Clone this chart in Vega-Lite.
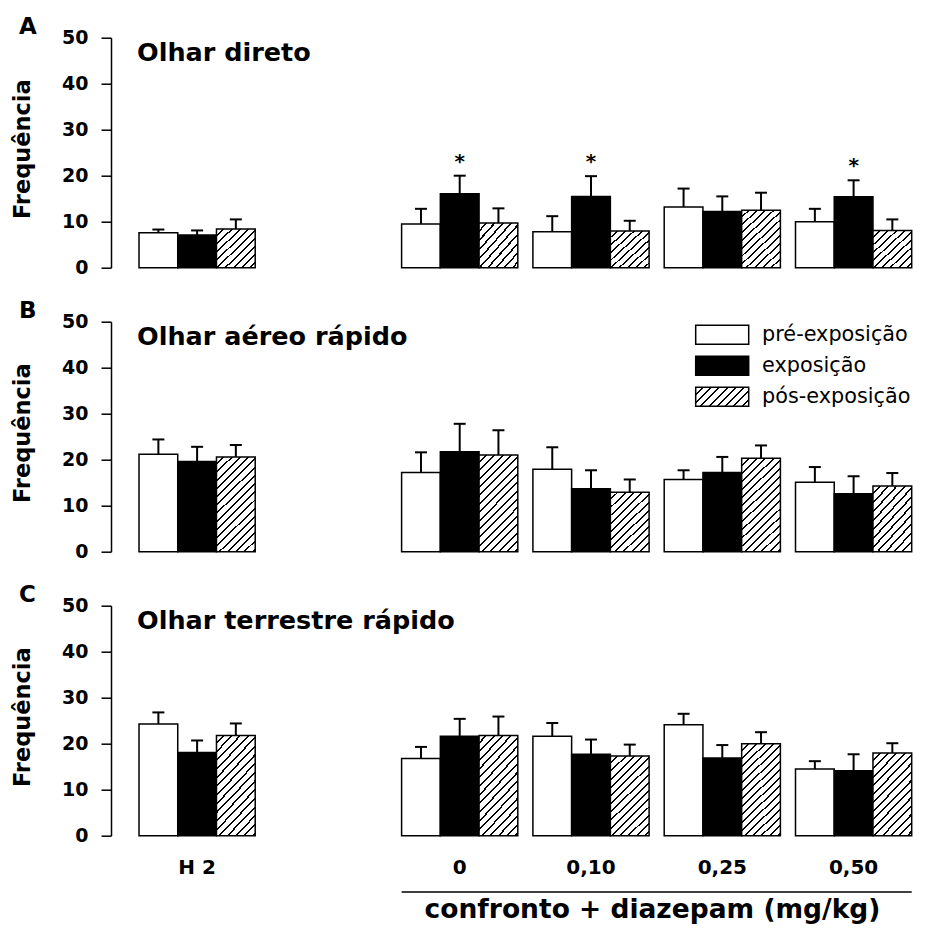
{
  "$schema": "https://vega.github.io/schema/vega-lite/v6.json",
  "padding": {"left": 10, "top": 15.7, "right": 0, "bottom": 0},
  "spacing": 22,
  "datasets": {
    "A": [
      {"group": "H 2", "cond": "pré-exposição", "mean": 7.6, "upper": 8.3},
      {"group": "H 2", "cond": "exposição", "mean": 7.1, "upper": 8.1},
      {"group": "H 2", "cond": "pós-exposição", "mean": 8.4, "upper": 10.5},
      {"group": "0", "cond": "pré-exposição", "mean": 9.5, "upper": 12.8},
      {"group": "0", "cond": "exposição", "mean": 16.1, "upper": 20.0, "sig": "*"},
      {"group": "0", "cond": "pós-exposição", "mean": 9.7, "upper": 12.9},
      {"group": "0,10", "cond": "pré-exposição", "mean": 7.8, "upper": 11.2},
      {"group": "0,10", "cond": "exposição", "mean": 15.5, "upper": 19.9, "sig": "*"},
      {"group": "0,10", "cond": "pós-exposição", "mean": 8.0, "upper": 10.2},
      {"group": "0,25", "cond": "pré-exposição", "mean": 13.2, "upper": 17.2},
      {"group": "0,25", "cond": "exposição", "mean": 12.2, "upper": 15.5},
      {"group": "0,25", "cond": "pós-exposição", "mean": 12.5, "upper": 16.3},
      {"group": "0,50", "cond": "pré-exposição", "mean": 10.0, "upper": 12.8},
      {"group": "0,50", "cond": "exposição", "mean": 15.4, "upper": 19.0, "sig": "*"},
      {"group": "0,50", "cond": "pós-exposição", "mean": 8.1, "upper": 10.5}
    ],
    "B": [
      {"group": "H 2", "cond": "pré-exposição", "mean": 21.2, "upper": 24.4},
      {"group": "H 2", "cond": "exposição", "mean": 19.6, "upper": 22.8},
      {"group": "H 2", "cond": "pós-exposição", "mean": 20.6, "upper": 23.2},
      {"group": "0", "cond": "pré-exposição", "mean": 17.2, "upper": 21.6},
      {"group": "0", "cond": "exposição", "mean": 21.7, "upper": 27.8},
      {"group": "0", "cond": "pós-exposição", "mean": 21.0, "upper": 26.4},
      {"group": "0,10", "cond": "pré-exposição", "mean": 17.9, "upper": 22.7},
      {"group": "0,10", "cond": "exposição", "mean": 13.7, "upper": 17.7},
      {"group": "0,10", "cond": "pós-exposição", "mean": 12.9, "upper": 15.7},
      {"group": "0,25", "cond": "pré-exposição", "mean": 15.7, "upper": 17.7},
      {"group": "0,25", "cond": "exposição", "mean": 17.2, "upper": 20.6},
      {"group": "0,25", "cond": "pós-exposição", "mean": 20.3, "upper": 23.1},
      {"group": "0,50", "cond": "pré-exposição", "mean": 15.1, "upper": 18.4},
      {"group": "0,50", "cond": "exposição", "mean": 12.6, "upper": 16.4},
      {"group": "0,50", "cond": "pós-exposição", "mean": 14.3, "upper": 17.1}
    ],
    "C": [
      {"group": "H 2", "cond": "pré-exposição", "mean": 24.3, "upper": 26.8},
      {"group": "H 2", "cond": "exposição", "mean": 18.1, "upper": 20.7},
      {"group": "H 2", "cond": "pós-exposição", "mean": 21.8, "upper": 24.4},
      {"group": "0", "cond": "pré-exposição", "mean": 16.8, "upper": 19.3},
      {"group": "0", "cond": "exposição", "mean": 21.6, "upper": 25.4},
      {"group": "0", "cond": "pós-exposição", "mean": 21.8, "upper": 25.9},
      {"group": "0,10", "cond": "pré-exposição", "mean": 21.6, "upper": 24.5},
      {"group": "0,10", "cond": "exposição", "mean": 17.7, "upper": 20.9},
      {"group": "0,10", "cond": "pós-exposição", "mean": 17.3, "upper": 19.8},
      {"group": "0,25", "cond": "pré-exposição", "mean": 24.1, "upper": 26.5},
      {"group": "0,25", "cond": "exposição", "mean": 16.9, "upper": 19.7},
      {"group": "0,25", "cond": "pós-exposição", "mean": 20.0, "upper": 22.5},
      {"group": "0,50", "cond": "pré-exposição", "mean": 14.5, "upper": 16.2},
      {"group": "0,50", "cond": "exposição", "mean": 14.1, "upper": 17.7},
      {"group": "0,50", "cond": "pós-exposição", "mean": 18.0, "upper": 20.1}
    ]
  },
  "vconcat": [
    {
      "width": 805, "height": 230,
      "data": {"name": "A"},
      "title": {"text": "A", "anchor": "start", "frame": "group", "dx": -92, "offset": -10, "fontSize": 23},
      "layer": [
        {
          "mark": {"type": "bar", "stroke": "black", "strokeWidth": 1.5},
          "encoding": {
            "x": {"field": "group", "type": "nominal", "scale": {"domain": ["H 2", " ", "0", "0,10", "0,25", "0,50"], "paddingInner": 0.115, "paddingOuter": 0.123, "align": 0.867}, "axis": null},
            "xOffset": {"field": "cond", "type": "nominal", "scale": {"domain": ["pré-exposição", "exposição", "pós-exposição"], "paddingInner": 0, "paddingOuter": 0}},
            "y": {"field": "mean", "type": "quantitative", "scale": {"domain": [0, 50], "nice": false}, "axis": {"title": "Frequência", "values": [0, 10, 20, 30, 40, 50]}},
            "fill": {
              "field": "cond", "type": "nominal", "legend": null,
              "scale": {"domain": ["pré-exposição", "exposição", "pós-exposição"], "range": ["white", "black", "#888888"]},
              "condition": [
                {"test": "datum.cond === 'pós-exposição' && datum.mean < 11", "value": {"gradient": "linear", "x1": 0, "y1": 0, "x2": 0.983, "y2": 1.016, "stops": [
                  {"offset": 0, "color": "white"},
                  {"offset": 0.080, "color": "white"}, {"offset": 0.080, "color": "black"}, {"offset": 0.105, "color": "black"}, {"offset": 0.105, "color": "white"},
                  {"offset": 0.185, "color": "white"}, {"offset": 0.185, "color": "black"}, {"offset": 0.211, "color": "black"}, {"offset": 0.211, "color": "white"},
                  {"offset": 0.291, "color": "white"}, {"offset": 0.291, "color": "black"}, {"offset": 0.316, "color": "black"}, {"offset": 0.316, "color": "white"},
                  {"offset": 0.396, "color": "white"}, {"offset": 0.396, "color": "black"}, {"offset": 0.421, "color": "black"}, {"offset": 0.421, "color": "white"},
                  {"offset": 0.501, "color": "white"}, {"offset": 0.501, "color": "black"}, {"offset": 0.526, "color": "black"}, {"offset": 0.526, "color": "white"},
                  {"offset": 0.606, "color": "white"}, {"offset": 0.606, "color": "black"}, {"offset": 0.632, "color": "black"}, {"offset": 0.632, "color": "white"},
                  {"offset": 0.712, "color": "white"}, {"offset": 0.712, "color": "black"}, {"offset": 0.737, "color": "black"}, {"offset": 0.737, "color": "white"},
                  {"offset": 0.817, "color": "white"}, {"offset": 0.817, "color": "black"}, {"offset": 0.842, "color": "black"}, {"offset": 0.842, "color": "white"},
                  {"offset": 0.922, "color": "white"}, {"offset": 0.922, "color": "black"}, {"offset": 0.947, "color": "black"}, {"offset": 0.947, "color": "white"},
                  {"offset": 1, "color": "white"}]}},
                {"test": "datum.cond === 'pós-exposição'", "value": {"gradient": "linear", "x1": 0, "y1": 0, "x2": 0.739, "y2": 1.165, "stops": [
                  {"offset": 0, "color": "white"},
                  {"offset": 0.0633, "color": "white"}, {"offset": 0.0633, "color": "black"}, {"offset": 0.0833, "color": "black"}, {"offset": 0.0833, "color": "white"},
                  {"offset": 0.1467, "color": "white"}, {"offset": 0.1467, "color": "black"}, {"offset": 0.1667, "color": "black"}, {"offset": 0.1667, "color": "white"},
                  {"offset": 0.23, "color": "white"}, {"offset": 0.23, "color": "black"}, {"offset": 0.25, "color": "black"}, {"offset": 0.25, "color": "white"},
                  {"offset": 0.3133, "color": "white"}, {"offset": 0.3133, "color": "black"}, {"offset": 0.3333, "color": "black"}, {"offset": 0.3333, "color": "white"},
                  {"offset": 0.3967, "color": "white"}, {"offset": 0.3967, "color": "black"}, {"offset": 0.4167, "color": "black"}, {"offset": 0.4167, "color": "white"},
                  {"offset": 0.48, "color": "white"}, {"offset": 0.48, "color": "black"}, {"offset": 0.5, "color": "black"}, {"offset": 0.5, "color": "white"},
                  {"offset": 0.5633, "color": "white"}, {"offset": 0.5633, "color": "black"}, {"offset": 0.5833, "color": "black"}, {"offset": 0.5833, "color": "white"},
                  {"offset": 0.6467, "color": "white"}, {"offset": 0.6467, "color": "black"}, {"offset": 0.6667, "color": "black"}, {"offset": 0.6667, "color": "white"},
                  {"offset": 0.73, "color": "white"}, {"offset": 0.73, "color": "black"}, {"offset": 0.75, "color": "black"}, {"offset": 0.75, "color": "white"},
                  {"offset": 0.8133, "color": "white"}, {"offset": 0.8133, "color": "black"}, {"offset": 0.8333, "color": "black"}, {"offset": 0.8333, "color": "white"},
                  {"offset": 0.8967, "color": "white"}, {"offset": 0.8967, "color": "black"}, {"offset": 0.9167, "color": "black"}, {"offset": 0.9167, "color": "white"},
                  {"offset": 1, "color": "white"}]}}
              ]
            }
          }
        },
        {
          "mark": {"type": "rule", "stroke": "black", "strokeWidth": 2},
          "encoding": {
            "x": {"field": "group", "type": "nominal"},
            "xOffset": {"field": "cond", "type": "nominal"},
            "y": {"field": "mean", "type": "quantitative"},
            "y2": {"field": "upper"}
          }
        },
        {
          "mark": {"type": "tick", "color": "black", "opacity": 1, "thickness": 2, "size": 12, "orient": "horizontal"},
          "encoding": {
            "x": {"field": "group", "type": "nominal"},
            "xOffset": {"field": "cond", "type": "nominal"},
            "y": {"field": "upper", "type": "quantitative"}
          }
        },
        {
          "transform": [{"filter": "datum.sig"}],
          "mark": {"type": "text", "fontSize": 20, "fontWeight": "bold", "font": "DejaVu Sans", "baseline": "alphabetic", "dy": -8, "color": "black"},
          "encoding": {
            "x": {"field": "group", "type": "nominal"},
            "xOffset": {"field": "cond", "type": "nominal"},
            "y": {"field": "upper", "type": "quantitative"},
            "text": {"field": "sig"}
          }
        },
        {
          "data": {"values": [{"t": "Olhar direto"}]},
          "mark": {"type": "text", "font": "DejaVu Sans", "fontWeight": "bold", "fontSize": 25.5, "align": "left", "baseline": "alphabetic", "dx": -2, "color": "black"},
          "encoding": {
            "x": {"datum": "H 2", "type": "nominal", "bandPosition": 0},
            "y": {"datum": 45, "type": "quantitative"},
            "text": {"field": "t"}
          }
        }
      ]
    },
    {
      "width": 805, "height": 230,
      "data": {"name": "B"},
      "title": {"text": "B", "anchor": "start", "frame": "group", "dx": -92, "offset": -10, "fontSize": 23},
      "layer": [
        {
          "mark": {"type": "bar", "stroke": "black", "strokeWidth": 1.5},
          "encoding": {
            "x": {"field": "group", "type": "nominal", "scale": {"domain": ["H 2", " ", "0", "0,10", "0,25", "0,50"], "paddingInner": 0.115, "paddingOuter": 0.123, "align": 0.867}, "axis": null},
            "xOffset": {"field": "cond", "type": "nominal", "scale": {"domain": ["pré-exposição", "exposição", "pós-exposição"], "paddingInner": 0, "paddingOuter": 0}},
            "y": {"field": "mean", "type": "quantitative", "scale": {"domain": [0, 50], "nice": false}, "axis": {"title": "Frequência", "values": [0, 10, 20, 30, 40, 50]}},
            "fill": {
              "field": "cond", "type": "nominal",
              "legend": {"orient": "none", "legendX": 600.7, "legendY": 2.6, "title": null, "symbolType": "M-2.79,-1H2.79V1H-2.79Z", "symbolSize": 361, "symbolStrokeWidth": 1.5, "symbolStrokeColor": "black", "symbolOpacity": 1, "labelFont": "DejaVu Sans", "labelFontSize": 20.8, "labelColor": "black", "labelOffset": 29.4, "rowPadding": 6, "padding": 0,
                "encode": {"symbols": {"update": {"stroke": {"value": "black"}, "strokeWidth": {"value": 1.5}}}}
              },
              "scale": {"domain": ["pré-exposição", "exposição", "pós-exposição"], "range": ["white", "black", {"expr": "{gradient: 'linear', x1: 0, y1: 0, x2: 1.204, y2: 0.431, stops: [{offset: 0, color: 'white'}, {offset: 0.0873, color: 'white'}, {offset: 0.0873, color: 'black'}, {offset: 0.1149, color: 'black'}, {offset: 0.1149, color: 'white'}, {offset: 0.2023, color: 'white'}, {offset: 0.2023, color: 'black'}, {offset: 0.2299, color: 'black'}, {offset: 0.2299, color: 'white'}, {offset: 0.3172, color: 'white'}, {offset: 0.3172, color: 'black'}, {offset: 0.3448, color: 'black'}, {offset: 0.3448, color: 'white'}, {offset: 0.4322, color: 'white'}, {offset: 0.4322, color: 'black'}, {offset: 0.4598, color: 'black'}, {offset: 0.4598, color: 'white'}, {offset: 0.5471, color: 'white'}, {offset: 0.5471, color: 'black'}, {offset: 0.5747, color: 'black'}, {offset: 0.5747, color: 'white'}, {offset: 0.6621, color: 'white'}, {offset: 0.6621, color: 'black'}, {offset: 0.6897, color: 'black'}, {offset: 0.6897, color: 'white'}, {offset: 0.777, color: 'white'}, {offset: 0.777, color: 'black'}, {offset: 0.8046, color: 'black'}, {offset: 0.8046, color: 'white'}, {offset: 0.8919, color: 'white'}, {offset: 0.8919, color: 'black'}, {offset: 0.9195, color: 'black'}, {offset: 0.9195, color: 'white'}, {offset: 1, color: 'white'}]}"}]},
              "condition": [
                {"test": "datum.cond === 'pós-exposição' && datum.mean < 16", "value": {"gradient": "linear", "x1": 0, "y1": 0, "x2": 0.739, "y2": 1.165, "stops": [
                  {"offset": 0, "color": "white"},
                  {"offset": 0.0633, "color": "white"}, {"offset": 0.0633, "color": "black"}, {"offset": 0.0833, "color": "black"}, {"offset": 0.0833, "color": "white"},
                  {"offset": 0.1467, "color": "white"}, {"offset": 0.1467, "color": "black"}, {"offset": 0.1667, "color": "black"}, {"offset": 0.1667, "color": "white"},
                  {"offset": 0.23, "color": "white"}, {"offset": 0.23, "color": "black"}, {"offset": 0.25, "color": "black"}, {"offset": 0.25, "color": "white"},
                  {"offset": 0.3133, "color": "white"}, {"offset": 0.3133, "color": "black"}, {"offset": 0.3333, "color": "black"}, {"offset": 0.3333, "color": "white"},
                  {"offset": 0.3967, "color": "white"}, {"offset": 0.3967, "color": "black"}, {"offset": 0.4167, "color": "black"}, {"offset": 0.4167, "color": "white"},
                  {"offset": 0.48, "color": "white"}, {"offset": 0.48, "color": "black"}, {"offset": 0.5, "color": "black"}, {"offset": 0.5, "color": "white"},
                  {"offset": 0.5633, "color": "white"}, {"offset": 0.5633, "color": "black"}, {"offset": 0.5833, "color": "black"}, {"offset": 0.5833, "color": "white"},
                  {"offset": 0.6467, "color": "white"}, {"offset": 0.6467, "color": "black"}, {"offset": 0.6667, "color": "black"}, {"offset": 0.6667, "color": "white"},
                  {"offset": 0.73, "color": "white"}, {"offset": 0.73, "color": "black"}, {"offset": 0.75, "color": "black"}, {"offset": 0.75, "color": "white"},
                  {"offset": 0.8133, "color": "white"}, {"offset": 0.8133, "color": "black"}, {"offset": 0.8333, "color": "black"}, {"offset": 0.8333, "color": "white"},
                  {"offset": 0.8967, "color": "white"}, {"offset": 0.8967, "color": "black"}, {"offset": 0.9167, "color": "black"}, {"offset": 0.9167, "color": "white"},
                  {"offset": 1, "color": "white"}]}},
                {"test": "datum.cond === 'pós-exposição'", "value": {"gradient": "linear", "x1": 0, "y1": 0, "x2": 0.487, "y2": 1.207, "stops": [
                  {"offset": 0, "color": "white"},
                  {"offset": 0.0469, "color": "white"}, {"offset": 0.0469, "color": "black"}, {"offset": 0.0617, "color": "black"}, {"offset": 0.0617, "color": "white"},
                  {"offset": 0.1087, "color": "white"}, {"offset": 0.1087, "color": "black"}, {"offset": 0.1235, "color": "black"}, {"offset": 0.1235, "color": "white"},
                  {"offset": 0.1704, "color": "white"}, {"offset": 0.1704, "color": "black"}, {"offset": 0.1852, "color": "black"}, {"offset": 0.1852, "color": "white"},
                  {"offset": 0.2321, "color": "white"}, {"offset": 0.2321, "color": "black"}, {"offset": 0.2469, "color": "black"}, {"offset": 0.2469, "color": "white"},
                  {"offset": 0.2938, "color": "white"}, {"offset": 0.2938, "color": "black"}, {"offset": 0.3086, "color": "black"}, {"offset": 0.3086, "color": "white"},
                  {"offset": 0.3556, "color": "white"}, {"offset": 0.3556, "color": "black"}, {"offset": 0.3704, "color": "black"}, {"offset": 0.3704, "color": "white"},
                  {"offset": 0.4173, "color": "white"}, {"offset": 0.4173, "color": "black"}, {"offset": 0.4321, "color": "black"}, {"offset": 0.4321, "color": "white"},
                  {"offset": 0.479, "color": "white"}, {"offset": 0.479, "color": "black"}, {"offset": 0.4938, "color": "black"}, {"offset": 0.4938, "color": "white"},
                  {"offset": 0.5408, "color": "white"}, {"offset": 0.5408, "color": "black"}, {"offset": 0.5556, "color": "black"}, {"offset": 0.5556, "color": "white"},
                  {"offset": 0.6025, "color": "white"}, {"offset": 0.6025, "color": "black"}, {"offset": 0.6173, "color": "black"}, {"offset": 0.6173, "color": "white"},
                  {"offset": 0.6642, "color": "white"}, {"offset": 0.6642, "color": "black"}, {"offset": 0.679, "color": "black"}, {"offset": 0.679, "color": "white"},
                  {"offset": 0.7259, "color": "white"}, {"offset": 0.7259, "color": "black"}, {"offset": 0.7407, "color": "black"}, {"offset": 0.7407, "color": "white"},
                  {"offset": 0.7877, "color": "white"}, {"offset": 0.7877, "color": "black"}, {"offset": 0.8025, "color": "black"}, {"offset": 0.8025, "color": "white"},
                  {"offset": 0.8494, "color": "white"}, {"offset": 0.8494, "color": "black"}, {"offset": 0.8642, "color": "black"}, {"offset": 0.8642, "color": "white"},
                  {"offset": 0.9111, "color": "white"}, {"offset": 0.9111, "color": "black"}, {"offset": 0.9259, "color": "black"}, {"offset": 0.9259, "color": "white"},
                  {"offset": 0.9729, "color": "white"}, {"offset": 0.9729, "color": "black"}, {"offset": 0.9877, "color": "black"}, {"offset": 0.9877, "color": "white"},
                  {"offset": 1, "color": "white"}]}}
              ]
            }
          }
        },
        {
          "mark": {"type": "rule", "stroke": "black", "strokeWidth": 2},
          "encoding": {
            "x": {"field": "group", "type": "nominal"},
            "xOffset": {"field": "cond", "type": "nominal"},
            "y": {"field": "mean", "type": "quantitative"},
            "y2": {"field": "upper"}
          }
        },
        {
          "mark": {"type": "tick", "color": "black", "opacity": 1, "thickness": 2, "size": 12, "orient": "horizontal"},
          "encoding": {
            "x": {"field": "group", "type": "nominal"},
            "xOffset": {"field": "cond", "type": "nominal"},
            "y": {"field": "upper", "type": "quantitative"}
          }
        },
        {
          "data": {"values": [{"t": "Olhar aéreo rápido"}]},
          "mark": {"type": "text", "font": "DejaVu Sans", "fontWeight": "bold", "fontSize": 25.5, "align": "left", "baseline": "alphabetic", "dx": -2, "color": "black"},
          "encoding": {
            "x": {"datum": "H 2", "type": "nominal", "bandPosition": 0},
            "y": {"datum": 45, "type": "quantitative"},
            "text": {"field": "t"}
          }
        }
      ]
    },
    {
      "width": 805, "height": 230,
      "data": {"name": "C"},
      "title": {"text": "C", "anchor": "start", "frame": "group", "dx": -92, "offset": -10, "fontSize": 23},
      "layer": [
        {
          "mark": {"type": "bar", "stroke": "black", "strokeWidth": 1.5},
          "encoding": {
            "x": {"field": "group", "type": "nominal", "scale": {"domain": ["H 2", " ", "0", "0,10", "0,25", "0,50"], "paddingInner": 0.115, "paddingOuter": 0.123, "align": 0.867},
              "axis": {"title": "confronto + diazepam (mg/kg)", "domain": false, "ticks": false, "tickSize": 0, "labelPadding": 22, "labelFontSize": 20, "labelAngle": 0, "titleFontSize": 26.5, "titleX": 541, "titleY": 82, "titleAlign": "center", "titleBaseline": "alphabetic"}},
            "xOffset": {"field": "cond", "type": "nominal", "scale": {"domain": ["pré-exposição", "exposição", "pós-exposição"], "paddingInner": 0, "paddingOuter": 0}},
            "y": {"field": "mean", "type": "quantitative", "scale": {"domain": [0, 50], "nice": false}, "axis": {"title": "Frequência", "values": [0, 10, 20, 30, 40, 50]}},
            "fill": {
              "field": "cond", "type": "nominal", "legend": null,
              "scale": {"domain": ["pré-exposição", "exposição", "pós-exposição"], "range": ["white", "black", "#888888"]},
              "condition": [
                {"test": "datum.cond === 'pós-exposição' && datum.mean < 19", "value": {"gradient": "linear", "x1": 0, "y1": 0, "x2": 0.576, "y2": 1.203, "stops": [
                  {"offset": 0, "color": "white"},
                  {"offset": 0.0527, "color": "white"}, {"offset": 0.0527, "color": "black"}, {"offset": 0.0694, "color": "black"}, {"offset": 0.0694, "color": "white"},
                  {"offset": 0.1222, "color": "white"}, {"offset": 0.1222, "color": "black"}, {"offset": 0.1389, "color": "black"}, {"offset": 0.1389, "color": "white"},
                  {"offset": 0.1916, "color": "white"}, {"offset": 0.1916, "color": "black"}, {"offset": 0.2083, "color": "black"}, {"offset": 0.2083, "color": "white"},
                  {"offset": 0.2611, "color": "white"}, {"offset": 0.2611, "color": "black"}, {"offset": 0.2778, "color": "black"}, {"offset": 0.2778, "color": "white"},
                  {"offset": 0.3305, "color": "white"}, {"offset": 0.3305, "color": "black"}, {"offset": 0.3472, "color": "black"}, {"offset": 0.3472, "color": "white"},
                  {"offset": 0.4, "color": "white"}, {"offset": 0.4, "color": "black"}, {"offset": 0.4167, "color": "black"}, {"offset": 0.4167, "color": "white"},
                  {"offset": 0.4694, "color": "white"}, {"offset": 0.4694, "color": "black"}, {"offset": 0.4861, "color": "black"}, {"offset": 0.4861, "color": "white"},
                  {"offset": 0.5389, "color": "white"}, {"offset": 0.5389, "color": "black"}, {"offset": 0.5556, "color": "black"}, {"offset": 0.5556, "color": "white"},
                  {"offset": 0.6083, "color": "white"}, {"offset": 0.6083, "color": "black"}, {"offset": 0.625, "color": "black"}, {"offset": 0.625, "color": "white"},
                  {"offset": 0.6777, "color": "white"}, {"offset": 0.6777, "color": "black"}, {"offset": 0.6944, "color": "black"}, {"offset": 0.6944, "color": "white"},
                  {"offset": 0.7472, "color": "white"}, {"offset": 0.7472, "color": "black"}, {"offset": 0.7639, "color": "black"}, {"offset": 0.7639, "color": "white"},
                  {"offset": 0.8166, "color": "white"}, {"offset": 0.8166, "color": "black"}, {"offset": 0.8333, "color": "black"}, {"offset": 0.8333, "color": "white"},
                  {"offset": 0.8861, "color": "white"}, {"offset": 0.8861, "color": "black"}, {"offset": 0.9028, "color": "black"}, {"offset": 0.9028, "color": "white"},
                  {"offset": 0.9555, "color": "white"}, {"offset": 0.9555, "color": "black"}, {"offset": 0.9722, "color": "black"}, {"offset": 0.9722, "color": "white"},
                  {"offset": 1, "color": "white"}]}},
                {"test": "datum.cond === 'pós-exposição'", "value": {"gradient": "linear", "x1": 0, "y1": 0, "x2": 0.487, "y2": 1.207, "stops": [
                  {"offset": 0, "color": "white"},
                  {"offset": 0.0469, "color": "white"}, {"offset": 0.0469, "color": "black"}, {"offset": 0.0617, "color": "black"}, {"offset": 0.0617, "color": "white"},
                  {"offset": 0.1087, "color": "white"}, {"offset": 0.1087, "color": "black"}, {"offset": 0.1235, "color": "black"}, {"offset": 0.1235, "color": "white"},
                  {"offset": 0.1704, "color": "white"}, {"offset": 0.1704, "color": "black"}, {"offset": 0.1852, "color": "black"}, {"offset": 0.1852, "color": "white"},
                  {"offset": 0.2321, "color": "white"}, {"offset": 0.2321, "color": "black"}, {"offset": 0.2469, "color": "black"}, {"offset": 0.2469, "color": "white"},
                  {"offset": 0.2938, "color": "white"}, {"offset": 0.2938, "color": "black"}, {"offset": 0.3086, "color": "black"}, {"offset": 0.3086, "color": "white"},
                  {"offset": 0.3556, "color": "white"}, {"offset": 0.3556, "color": "black"}, {"offset": 0.3704, "color": "black"}, {"offset": 0.3704, "color": "white"},
                  {"offset": 0.4173, "color": "white"}, {"offset": 0.4173, "color": "black"}, {"offset": 0.4321, "color": "black"}, {"offset": 0.4321, "color": "white"},
                  {"offset": 0.479, "color": "white"}, {"offset": 0.479, "color": "black"}, {"offset": 0.4938, "color": "black"}, {"offset": 0.4938, "color": "white"},
                  {"offset": 0.5408, "color": "white"}, {"offset": 0.5408, "color": "black"}, {"offset": 0.5556, "color": "black"}, {"offset": 0.5556, "color": "white"},
                  {"offset": 0.6025, "color": "white"}, {"offset": 0.6025, "color": "black"}, {"offset": 0.6173, "color": "black"}, {"offset": 0.6173, "color": "white"},
                  {"offset": 0.6642, "color": "white"}, {"offset": 0.6642, "color": "black"}, {"offset": 0.679, "color": "black"}, {"offset": 0.679, "color": "white"},
                  {"offset": 0.7259, "color": "white"}, {"offset": 0.7259, "color": "black"}, {"offset": 0.7407, "color": "black"}, {"offset": 0.7407, "color": "white"},
                  {"offset": 0.7877, "color": "white"}, {"offset": 0.7877, "color": "black"}, {"offset": 0.8025, "color": "black"}, {"offset": 0.8025, "color": "white"},
                  {"offset": 0.8494, "color": "white"}, {"offset": 0.8494, "color": "black"}, {"offset": 0.8642, "color": "black"}, {"offset": 0.8642, "color": "white"},
                  {"offset": 0.9111, "color": "white"}, {"offset": 0.9111, "color": "black"}, {"offset": 0.9259, "color": "black"}, {"offset": 0.9259, "color": "white"},
                  {"offset": 0.9729, "color": "white"}, {"offset": 0.9729, "color": "black"}, {"offset": 0.9877, "color": "black"}, {"offset": 0.9877, "color": "white"},
                  {"offset": 1, "color": "white"}]}}
              ]
            }
          }
        },
        {
          "mark": {"type": "rule", "stroke": "black", "strokeWidth": 2},
          "encoding": {
            "x": {"field": "group", "type": "nominal"},
            "xOffset": {"field": "cond", "type": "nominal"},
            "y": {"field": "mean", "type": "quantitative"},
            "y2": {"field": "upper"}
          }
        },
        {
          "mark": {"type": "tick", "color": "black", "opacity": 1, "thickness": 2, "size": 12, "orient": "horizontal"},
          "encoding": {
            "x": {"field": "group", "type": "nominal"},
            "xOffset": {"field": "cond", "type": "nominal"},
            "y": {"field": "upper", "type": "quantitative"}
          }
        },
        {
          "data": {"values": [{"t": "Olhar terrestre rápido"}]},
          "mark": {"type": "text", "font": "DejaVu Sans", "fontWeight": "bold", "fontSize": 25.5, "align": "left", "baseline": "alphabetic", "dx": -2, "color": "black"},
          "encoding": {
            "x": {"datum": "H 2", "type": "nominal", "bandPosition": 0},
            "y": {"datum": 45, "type": "quantitative"},
            "text": {"field": "t"}
          }
        },
        {
          "data": {"values": [{"t": "bracket"}]},
          "mark": {"type": "rule", "stroke": "black", "strokeWidth": 1.5},
          "encoding": {
            "x": {"datum": "0", "type": "nominal", "bandPosition": 0},
            "x2": {"datum": "0,50", "bandPosition": 1},
            "y": {"datum": -12.24, "type": "quantitative"}
          }
        }
      ]
    }
  ],
  "resolve": {"scale": {"fill": "independent", "x": "independent", "xOffset": "independent", "y": "independent"}, "legend": {"fill": "independent"}},
  "config": {
    "view": {"stroke": null},
    "font": "DejaVu Sans",
    "title": {"font": "DejaVu Sans", "fontWeight": "bold", "color": "black"},
    "axis": {
      "grid": false, "domainColor": "black", "domainWidth": 1.5, "tickColor": "black", "tickWidth": 1.5,
      "labelColor": "black", "titleColor": "black", "labelFont": "DejaVu Sans", "titleFont": "DejaVu Sans",
      "labelFontWeight": "bold", "titleFontWeight": "bold"
    },
    "axisY": {
      "tickSize": 10, "labelPadding": 13, "labelFontSize": 19, "titleFontSize": 22.5,
      "titleX": -82, "titleY": 111, "titleAngle": -90, "titleAlign": "center", "titleBaseline": "alphabetic"
    }
  }
}
